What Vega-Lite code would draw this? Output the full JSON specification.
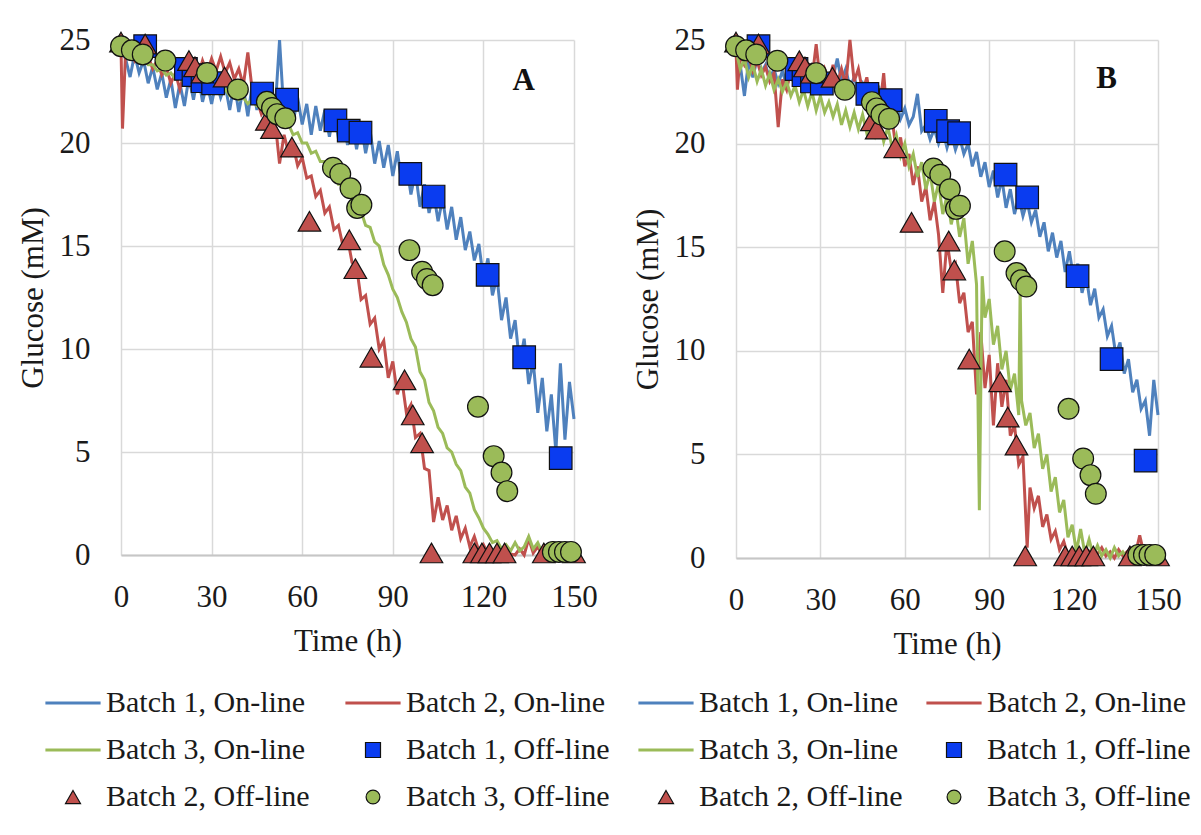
{
  "$schema": "https://vega.github.io/schema/vega-lite/v6.json",
  "background": "white",
  "padding": {"top": 24, "left": 17, "right": 5, "bottom": 5},
  "config": {
    "view": {"stroke": null},
    "font": "Liberation Serif",
    "axis": {"labelFont": "Liberation Serif", "titleFont": "Liberation Serif", "labelFontSize": 31, "titleFontSize": 31, "labelColor": "#1a1a1a", "titleColor": "#1a1a1a", "titleFontWeight": "normal", "gridColor": "#d9d9d9", "gridWidth": 1.5, "ticks": false, "tickSize": 0, "domain": false, "labelFlush": false, "labelOverlap": false}
  },
  "resolve": {"legend": {"fill": "independent", "stroke": "independent", "shape": "independent"}},
  "spacing": 162,
  "bounds": "flush",
  "datasets": {
    "a1": [{"t":0,"v":24.5},{"t":1.5,"v":24.1},{"t":3,"v":23.2},{"t":4.5,"v":24.3},{"t":6,"v":23.4},{"t":7.5,"v":24.0},{"t":9,"v":22.9},{"t":10.5,"v":23.7},{"t":12,"v":22.6},{"t":13.5,"v":23.4},{"t":15,"v":22.2},{"t":16.5,"v":23.1},{"t":18,"v":21.7},{"t":19.5,"v":22.9},{"t":21,"v":21.8},{"t":22.5,"v":23.2},{"t":24,"v":22.1},{"t":25.5,"v":23.3},{"t":27,"v":22.0},{"t":28.5,"v":22.9},{"t":30,"v":21.9},{"t":31.5,"v":23.0},{"t":33,"v":22.2},{"t":34.5,"v":22.8},{"t":36,"v":21.6},{"t":37.5,"v":22.9},{"t":39,"v":21.5},{"t":40.5,"v":22.7},{"t":42,"v":21.3},{"t":43.5,"v":22.9},{"t":45,"v":21.6},{"t":46.5,"v":22.6},{"t":48,"v":21.2},{"t":49.5,"v":22.5},{"t":51,"v":21.5},{"t":52.5,"v":25.0},{"t":54,"v":21.3},{"t":55.5,"v":22.4},{"t":57,"v":21.0},{"t":58.5,"v":22.2},{"t":60,"v":20.9},{"t":61.5,"v":21.9},{"t":63,"v":20.4},{"t":64.5,"v":21.8},{"t":66,"v":20.6},{"t":67.5,"v":21.6},{"t":69,"v":20.3},{"t":70.5,"v":21.5},{"t":72,"v":20.2},{"t":73.5,"v":21.3},{"t":75,"v":19.9},{"t":76.5,"v":21.1},{"t":78,"v":19.7},{"t":79.5,"v":20.9},{"t":81,"v":19.5},{"t":82.5,"v":20.6},{"t":84,"v":19.0},{"t":85.5,"v":20.1},{"t":87,"v":18.8},{"t":88.5,"v":19.9},{"t":90,"v":18.4},{"t":91.5,"v":19.6},{"t":93,"v":18.0},{"t":94.5,"v":19.0},{"t":96,"v":17.5},{"t":97.5,"v":18.6},{"t":99,"v":16.9},{"t":100.5,"v":18.0},{"t":102,"v":16.6},{"t":103.5,"v":17.6},{"t":105,"v":16.2},{"t":106.5,"v":17.3},{"t":108,"v":15.8},{"t":109.5,"v":16.9},{"t":111,"v":15.3},{"t":112.5,"v":16.4},{"t":114,"v":14.8},{"t":115.5,"v":15.7},{"t":117,"v":14.3},{"t":118.5,"v":15.1},{"t":120,"v":13.4},{"t":121.5,"v":14.4},{"t":123,"v":12.6},{"t":124.5,"v":13.5},{"t":126,"v":11.4},{"t":127.5,"v":12.5},{"t":129,"v":10.5},{"t":130.5,"v":11.4},{"t":132,"v":9.3},{"t":133.5,"v":10.5},{"t":135,"v":8.3},{"t":136.5,"v":9.4},{"t":138,"v":6.9},{"t":139.5,"v":8.6},{"t":141,"v":6.0},{"t":142.5,"v":7.8},{"t":144,"v":5.0},{"t":145.5,"v":9.3},{"t":147,"v":5.6},{"t":148.5,"v":8.4},{"t":150,"v":6.6}],
    "a2": [{"t":0,"v":24.7},{"t":0.5,"v":20.7},{"t":1.5,"v":24.4},{"t":3,"v":24.5},{"t":4.5,"v":24.0},{"t":6,"v":24.4},{"t":7.5,"v":23.9},{"t":9,"v":24.2},{"t":10.5,"v":23.6},{"t":12,"v":24.0},{"t":13.5,"v":23.3},{"t":15,"v":23.7},{"t":16.5,"v":22.9},{"t":18,"v":23.4},{"t":19.5,"v":22.6},{"t":21,"v":23.5},{"t":22.5,"v":22.9},{"t":24,"v":23.8},{"t":25.5,"v":23.2},{"t":27,"v":24.0},{"t":28.5,"v":23.4},{"t":30,"v":24.1},{"t":31.5,"v":23.5},{"t":33,"v":24.2},{"t":34.5,"v":23.4},{"t":36,"v":23.9},{"t":37.5,"v":23.1},{"t":39,"v":23.6},{"t":40.5,"v":22.8},{"t":42,"v":24.4},{"t":43.5,"v":22.5},{"t":45,"v":22.1},{"t":46.5,"v":21.4},{"t":48,"v":21.8},{"t":49.5,"v":20.9},{"t":51,"v":21.1},{"t":52.5,"v":19.0},{"t":54,"v":20.4},{"t":55.5,"v":19.5},{"t":57,"v":19.9},{"t":58.5,"v":18.9},{"t":60,"v":19.3},{"t":61.5,"v":18.3},{"t":63,"v":18.4},{"t":64.5,"v":17.4},{"t":66,"v":17.7},{"t":67.5,"v":16.6},{"t":69,"v":16.9},{"t":70.5,"v":15.8},{"t":72,"v":16.0},{"t":73.5,"v":15.0},{"t":75,"v":15.4},{"t":76.5,"v":14.2},{"t":78,"v":14.0},{"t":79.5,"v":12.4},{"t":81,"v":12.6},{"t":82.5,"v":11.2},{"t":84,"v":11.5},{"t":85.5,"v":10.0},{"t":87,"v":10.4},{"t":88.5,"v":8.6},{"t":90,"v":9.4},{"t":91.5,"v":7.8},{"t":93,"v":8.5},{"t":94.5,"v":6.9},{"t":96,"v":7.3},{"t":97.5,"v":5.7},{"t":99,"v":5.9},{"t":100.5,"v":4.2},{"t":102,"v":4.1},{"t":103.5,"v":1.6},{"t":105,"v":2.8},{"t":106.5,"v":1.7},{"t":108,"v":2.4},{"t":109.5,"v":1.2},{"t":111,"v":1.9},{"t":112.5,"v":0.8},{"t":114,"v":1.3},{"t":115.5,"v":0.4},{"t":117,"v":0.9},{"t":118.5,"v":0.2},{"t":120,"v":0.5},{"t":121.5,"v":0.05},{"t":123,"v":0.2},{"t":124.5,"v":0.0},{"t":126,"v":0.1},{"t":127.5,"v":0.0},{"t":129,"v":0.05},{"t":130.5,"v":0.0},{"t":132,"v":0.3},{"t":133.5,"v":0.0},{"t":135,"v":0.8},{"t":136.5,"v":0.1},{"t":138,"v":0.4},{"t":139.5,"v":0.0},{"t":141,"v":0.1},{"t":142.5,"v":0.0},{"t":144,"v":0.05},{"t":145.5,"v":0.0},{"t":147,"v":0.1},{"t":148.5,"v":0.0},{"t":150,"v":0.05}],
    "a3": [{"t":0,"v":24.6},{"t":1.5,"v":24.5},{"t":3,"v":24.3},{"t":4.5,"v":24.3},{"t":6,"v":24.0},{"t":7.5,"v":24.1},{"t":9,"v":23.8},{"t":10.5,"v":23.8},{"t":12,"v":23.5},{"t":13.5,"v":23.6},{"t":15,"v":23.3},{"t":16.5,"v":23.4},{"t":18,"v":23.1},{"t":19.5,"v":23.2},{"t":21,"v":22.9},{"t":22.5,"v":23.0},{"t":24,"v":22.8},{"t":25.5,"v":22.9},{"t":27,"v":22.6},{"t":28.5,"v":22.8},{"t":30,"v":22.6},{"t":31.5,"v":22.7},{"t":33,"v":22.4},{"t":34.5,"v":22.6},{"t":36,"v":22.3},{"t":37.5,"v":22.4},{"t":39,"v":22.1},{"t":40.5,"v":22.2},{"t":42,"v":21.9},{"t":43.5,"v":22.1},{"t":45,"v":21.8},{"t":46.5,"v":21.8},{"t":48,"v":21.5},{"t":49.5,"v":21.6},{"t":51,"v":21.2},{"t":52.5,"v":21.2},{"t":54,"v":20.8},{"t":55.5,"v":20.9},{"t":57,"v":20.4},{"t":58.5,"v":20.5},{"t":60,"v":20.0},{"t":61.5,"v":20.0},{"t":63,"v":19.5},{"t":64.5,"v":19.6},{"t":66,"v":19.1},{"t":67.5,"v":19.1},{"t":69,"v":18.6},{"t":70.5,"v":18.6},{"t":72,"v":18.0},{"t":73.5,"v":18.0},{"t":75,"v":17.5},{"t":76.5,"v":17.3},{"t":78,"v":16.8},{"t":79.5,"v":16.7},{"t":81,"v":16.0},{"t":82.5,"v":15.9},{"t":84,"v":15.2},{"t":85.5,"v":15.0},{"t":87,"v":14.1},{"t":88.5,"v":13.6},{"t":90,"v":12.9},{"t":91.5,"v":12.5},{"t":93,"v":11.8},{"t":94.5,"v":11.3},{"t":96,"v":10.5},{"t":97.5,"v":10.1},{"t":99,"v":8.9},{"t":100.5,"v":8.5},{"t":102,"v":7.4},{"t":103.5,"v":7.0},{"t":105,"v":6.2},{"t":106.5,"v":5.9},{"t":108,"v":5.2},{"t":109.5,"v":5.0},{"t":111,"v":4.4},{"t":112.5,"v":4.1},{"t":114,"v":3.3},{"t":115.5,"v":3.0},{"t":117,"v":2.2},{"t":118.5,"v":1.8},{"t":120,"v":1.3},{"t":121.5,"v":1.0},{"t":123,"v":0.6},{"t":124.5,"v":0.7},{"t":126,"v":0.3},{"t":127.5,"v":0.5},{"t":129,"v":0.2},{"t":130.5,"v":0.6},{"t":132,"v":0.2},{"t":133.5,"v":0.4},{"t":135,"v":0.9},{"t":136.5,"v":0.3},{"t":138,"v":0.6},{"t":139.5,"v":0.1},{"t":141,"v":0.3},{"t":142.5,"v":0.1},{"t":144,"v":0.2},{"t":145.5,"v":0.1},{"t":147,"v":0.3},{"t":148.5,"v":0.1},{"t":150,"v":0.6}],
    "b1": [{"t":0,"v":24.5},{"t":1.5,"v":23.8},{"t":3,"v":22.3},{"t":4.5,"v":24.0},{"t":6,"v":23.2},{"t":7.5,"v":24.1},{"t":9,"v":23.4},{"t":10.5,"v":23.8},{"t":12,"v":23.1},{"t":13.5,"v":23.6},{"t":15,"v":22.9},{"t":16.5,"v":23.5},{"t":18,"v":22.8},{"t":19.5,"v":23.4},{"t":21,"v":22.7},{"t":22.5,"v":23.3},{"t":24,"v":22.6},{"t":25.5,"v":23.2},{"t":27,"v":22.5},{"t":28.5,"v":23.1},{"t":30,"v":22.5},{"t":31.5,"v":23.0},{"t":33,"v":22.6},{"t":34.5,"v":23.2},{"t":36,"v":24.1},{"t":37.5,"v":23.0},{"t":39,"v":23.6},{"t":40.5,"v":22.7},{"t":42,"v":23.2},{"t":43.5,"v":22.5},{"t":45,"v":22.9},{"t":46.5,"v":22.3},{"t":48,"v":22.7},{"t":49.5,"v":22.0},{"t":51,"v":22.6},{"t":52.5,"v":21.8},{"t":54,"v":22.3},{"t":55.5,"v":21.6},{"t":57,"v":22.0},{"t":58.5,"v":21.2},{"t":60,"v":21.7},{"t":61.5,"v":20.9},{"t":63,"v":21.3},{"t":64.5,"v":22.4},{"t":66,"v":20.6},{"t":67.5,"v":20.9},{"t":69,"v":20.2},{"t":70.5,"v":20.7},{"t":72,"v":20.0},{"t":73.5,"v":20.6},{"t":75,"v":19.8},{"t":76.5,"v":20.5},{"t":78,"v":19.7},{"t":79.5,"v":20.3},{"t":81,"v":19.5},{"t":82.5,"v":20.0},{"t":84,"v":18.9},{"t":85.5,"v":19.6},{"t":87,"v":18.4},{"t":88.5,"v":19.1},{"t":90,"v":17.9},{"t":91.5,"v":18.7},{"t":93,"v":17.4},{"t":94.5,"v":18.3},{"t":96,"v":16.9},{"t":97.5,"v":17.8},{"t":99,"v":16.6},{"t":100.5,"v":17.4},{"t":102,"v":16.5},{"t":103.5,"v":17.2},{"t":105,"v":16.2},{"t":106.5,"v":16.8},{"t":108,"v":15.5},{"t":109.5,"v":16.2},{"t":111,"v":14.8},{"t":112.5,"v":15.7},{"t":114,"v":14.5},{"t":115.5,"v":15.3},{"t":117,"v":13.8},{"t":118.5,"v":14.8},{"t":120,"v":13.5},{"t":121.5,"v":14.2},{"t":123,"v":12.8},{"t":124.5,"v":13.6},{"t":126,"v":12.2},{"t":127.5,"v":13.0},{"t":129,"v":11.6},{"t":130.5,"v":12.0},{"t":132,"v":10.7},{"t":133.5,"v":11.2},{"t":135,"v":9.8},{"t":136.5,"v":10.4},{"t":138,"v":8.9},{"t":139.5,"v":9.6},{"t":141,"v":8.0},{"t":142.5,"v":8.6},{"t":144,"v":7.2},{"t":145.5,"v":7.6},{"t":147,"v":5.9},{"t":148.5,"v":8.6},{"t":150,"v":6.9}],
    "b2": [{"t":0,"v":24.6},{"t":0.5,"v":22.6},{"t":1.5,"v":24.3},{"t":3,"v":23.8},{"t":4.5,"v":24.2},{"t":6,"v":23.5},{"t":7.5,"v":24.0},{"t":9,"v":23.3},{"t":10.5,"v":23.7},{"t":12,"v":23.0},{"t":13.5,"v":23.4},{"t":15,"v":20.8},{"t":16.5,"v":23.1},{"t":18,"v":22.6},{"t":19.5,"v":23.6},{"t":21,"v":22.9},{"t":22.5,"v":23.5},{"t":24,"v":22.7},{"t":25.5,"v":23.9},{"t":27,"v":23.1},{"t":28.5,"v":24.8},{"t":30,"v":22.9},{"t":31.5,"v":23.6},{"t":33,"v":23.0},{"t":34.5,"v":23.8},{"t":36,"v":22.9},{"t":37.5,"v":23.6},{"t":39,"v":22.8},{"t":40.5,"v":25.0},{"t":42,"v":23.0},{"t":43.5,"v":23.6},{"t":45,"v":22.5},{"t":46.5,"v":23.2},{"t":48,"v":22.0},{"t":49.5,"v":22.6},{"t":51,"v":21.6},{"t":52.5,"v":23.4},{"t":54,"v":20.8},{"t":55.5,"v":21.2},{"t":57,"v":19.6},{"t":58.5,"v":20.3},{"t":60,"v":18.9},{"t":61.5,"v":19.5},{"t":63,"v":18.0},{"t":64.5,"v":18.9},{"t":66,"v":17.2},{"t":67.5,"v":17.9},{"t":69,"v":16.3},{"t":70.5,"v":17.2},{"t":72,"v":15.6},{"t":73.5,"v":12.8},{"t":75,"v":15.3},{"t":76.5,"v":13.9},{"t":78,"v":14.2},{"t":79.5,"v":12.3},{"t":81,"v":12.8},{"t":82.5,"v":10.9},{"t":84,"v":11.4},{"t":85.5,"v":7.9},{"t":87,"v":10.9},{"t":88.5,"v":8.2},{"t":90,"v":9.8},{"t":91.5,"v":6.4},{"t":93,"v":9.4},{"t":94.5,"v":7.3},{"t":96,"v":8.6},{"t":97.5,"v":5.9},{"t":99,"v":6.4},{"t":100.5,"v":4.5},{"t":102,"v":4.9},{"t":103.5,"v":0.5},{"t":104.5,"v":3.4},{"t":106,"v":2.4},{"t":107.5,"v":3.0},{"t":109,"v":1.5},{"t":110.5,"v":2.1},{"t":112,"v":0.9},{"t":113.5,"v":1.3},{"t":115,"v":0.4},{"t":116.5,"v":0.8},{"t":118,"v":0.1},{"t":119.5,"v":0.4},{"t":121,"v":0.0},{"t":122.5,"v":0.2},{"t":124,"v":0.0},{"t":125.5,"v":0.3},{"t":127,"v":0.0},{"t":128.5,"v":0.2},{"t":130,"v":0.5},{"t":131.5,"v":0.1},{"t":133,"v":0.3},{"t":134.5,"v":0.0},{"t":136,"v":0.4},{"t":137.5,"v":0.1},{"t":139,"v":0.3},{"t":140.5,"v":0.0},{"t":142,"v":0.2},{"t":143.5,"v":1.1},{"t":145,"v":0.2},{"t":146.5,"v":0.4},{"t":148,"v":0.0},{"t":149.5,"v":0.2}],
    "b3": [{"t":0,"v":24.5},{"t":1.5,"v":23.6},{"t":3,"v":24.1},{"t":4.5,"v":23.2},{"t":6,"v":23.8},{"t":7.5,"v":23.0},{"t":9,"v":23.6},{"t":10.5,"v":22.8},{"t":12,"v":23.4},{"t":13.5,"v":22.6},{"t":15,"v":23.1},{"t":16.5,"v":22.5},{"t":18,"v":23.0},{"t":19.5,"v":22.3},{"t":21,"v":22.8},{"t":22.5,"v":22.0},{"t":24,"v":22.6},{"t":25.5,"v":21.8},{"t":27,"v":22.5},{"t":28.5,"v":21.6},{"t":30,"v":22.3},{"t":31.5,"v":21.5},{"t":33,"v":22.0},{"t":34.5,"v":21.3},{"t":36,"v":21.9},{"t":37.5,"v":20.9},{"t":39,"v":21.6},{"t":40.5,"v":20.8},{"t":42,"v":21.5},{"t":43.5,"v":20.7},{"t":45,"v":21.4},{"t":46.5,"v":20.5},{"t":48,"v":21.2},{"t":49.5,"v":20.4},{"t":51,"v":21.0},{"t":52.5,"v":20.1},{"t":54,"v":20.8},{"t":55.5,"v":19.8},{"t":57,"v":20.4},{"t":58.5,"v":19.4},{"t":60,"v":20.0},{"t":61.5,"v":18.9},{"t":63,"v":19.5},{"t":64.5,"v":18.4},{"t":66,"v":19.1},{"t":67.5,"v":17.8},{"t":69,"v":18.6},{"t":70.5,"v":17.2},{"t":72,"v":18.1},{"t":73.5,"v":16.6},{"t":75,"v":17.5},{"t":76.5,"v":16.1},{"t":78,"v":17.0},{"t":79.5,"v":15.5},{"t":81,"v":16.4},{"t":82.5,"v":14.2},{"t":84,"v":15.3},{"t":85.5,"v":13.2},{"t":86.5,"v":2.3},{"t":87.5,"v":13.6},{"t":88.5,"v":11.6},{"t":90,"v":12.5},{"t":91.5,"v":10.3},{"t":93,"v":11.2},{"t":94.5,"v":9.1},{"t":96,"v":10.0},{"t":97.5,"v":8.1},{"t":99,"v":8.9},{"t":100.5,"v":6.9},{"t":101,"v":13.0},{"t":101.5,"v":7.6},{"t":103,"v":6.4},{"t":104.5,"v":7.0},{"t":106,"v":5.3},{"t":107.5,"v":6.0},{"t":109,"v":4.3},{"t":110.5,"v":5.0},{"t":112,"v":3.2},{"t":113.5,"v":3.9},{"t":115,"v":2.2},{"t":116.5,"v":2.8},{"t":118,"v":1.0},{"t":119.5,"v":1.6},{"t":121,"v":0.3},{"t":122.5,"v":1.4},{"t":124,"v":0.2},{"t":125.5,"v":0.9},{"t":127,"v":0.1},{"t":128.5,"v":0.6},{"t":130,"v":0.1},{"t":131.5,"v":0.4},{"t":133,"v":0.0},{"t":134.5,"v":0.5},{"t":136,"v":0.1},{"t":137.5,"v":0.3},{"t":139,"v":0.0},{"t":140.5,"v":0.2},{"t":142,"v":0.0},{"t":143.5,"v":0.2},{"t":145,"v":0.1},{"t":146.5,"v":0.3},{"t":148,"v":0.0},{"t":149.5,"v":0.2}],
    "off": [
      {"s":"Batch 1, Off-line","t":8,"v":24.7},{"s":"Batch 1, Off-line","t":21.5,"v":23.6},{"s":"Batch 1, Off-line","t":24,"v":23.3},{"s":"Batch 1, Off-line","t":27,"v":23.0},{"s":"Batch 1, Off-line","t":30.5,"v":22.9},{"s":"Batch 1, Off-line","t":46.7,"v":22.4},{"s":"Batch 1, Off-line","t":55,"v":22.1},{"s":"Batch 1, Off-line","t":71,"v":21.1},{"s":"Batch 1, Off-line","t":75.4,"v":20.6},{"s":"Batch 1, Off-line","t":79.3,"v":20.5},{"s":"Batch 1, Off-line","t":95.8,"v":18.5},{"s":"Batch 1, Off-line","t":103.5,"v":17.4},{"s":"Batch 1, Off-line","t":121.4,"v":13.6},{"s":"Batch 1, Off-line","t":133.5,"v":9.6},{"s":"Batch 1, Off-line","t":145.6,"v":4.7},
      {"s":"Batch 2, Off-line","t":0,"v":24.9},{"s":"Batch 2, Off-line","t":8,"v":24.8},{"s":"Batch 2, Off-line","t":22.5,"v":24.0},{"s":"Batch 2, Off-line","t":24.5,"v":23.7},{"s":"Batch 2, Off-line","t":27,"v":23.4},{"s":"Batch 2, Off-line","t":34.3,"v":23.2},{"s":"Batch 2, Off-line","t":48.3,"v":21.1},{"s":"Batch 2, Off-line","t":50,"v":20.7},{"s":"Batch 2, Off-line","t":56.6,"v":19.8},{"s":"Batch 2, Off-line","t":62.4,"v":16.2},{"s":"Batch 2, Off-line","t":75.6,"v":15.3},{"s":"Batch 2, Off-line","t":77.6,"v":13.9},{"s":"Batch 2, Off-line","t":82.9,"v":9.6},{"s":"Batch 2, Off-line","t":93.9,"v":8.5},{"s":"Batch 2, Off-line","t":96.6,"v":6.8},{"s":"Batch 2, Off-line","t":99.7,"v":5.45},{"s":"Batch 2, Off-line","t":102.8,"v":0.1},{"s":"Batch 2, Off-line","t":117,"v":0.1},{"s":"Batch 2, Off-line","t":119.5,"v":0.1},{"s":"Batch 2, Off-line","t":122,"v":0.1},{"s":"Batch 2, Off-line","t":124.5,"v":0.1},{"s":"Batch 2, Off-line","t":127,"v":0.1},{"s":"Batch 2, Off-line","t":140,"v":0.1},{"s":"Batch 2, Off-line","t":150,"v":0.1},
      {"s":"Batch 3, Off-line","t":0,"v":24.7},{"s":"Batch 3, Off-line","t":3.6,"v":24.5},{"s":"Batch 3, Off-line","t":7.2,"v":24.3},{"s":"Batch 3, Off-line","t":14.7,"v":24.0},{"s":"Batch 3, Off-line","t":28.5,"v":23.4},{"s":"Batch 3, Off-line","t":38.7,"v":22.6},{"s":"Batch 3, Off-line","t":48.3,"v":22.0},{"s":"Batch 3, Off-line","t":50,"v":21.7},{"s":"Batch 3, Off-line","t":51.7,"v":21.4},{"s":"Batch 3, Off-line","t":54.4,"v":21.2},{"s":"Batch 3, Off-line","t":70.2,"v":18.8},{"s":"Batch 3, Off-line","t":72.6,"v":18.5},{"s":"Batch 3, Off-line","t":76,"v":17.8},{"s":"Batch 3, Off-line","t":78.2,"v":16.85},{"s":"Batch 3, Off-line","t":79.6,"v":17.0},{"s":"Batch 3, Off-line","t":95.5,"v":14.8},{"s":"Batch 3, Off-line","t":99.7,"v":13.75},{"s":"Batch 3, Off-line","t":101.3,"v":13.4},{"s":"Batch 3, Off-line","t":103.2,"v":13.1},{"s":"Batch 3, Off-line","t":118.2,"v":7.2},{"s":"Batch 3, Off-line","t":123.4,"v":4.8},{"s":"Batch 3, Off-line","t":126,"v":4.0},{"s":"Batch 3, Off-line","t":127.9,"v":3.1},{"s":"Batch 3, Off-line","t":143,"v":0.15},{"s":"Batch 3, Off-line","t":145,"v":0.15},{"s":"Batch 3, Off-line","t":147,"v":0.15},{"s":"Batch 3, Off-line","t":149,"v":0.15}
    ]
  },
  "hconcat": [
    {
      "width": 453,
      "height": 515,
      "layer": [
        {"data": {"name": "a1"}, "mark": {"type": "line", "strokeWidth": 3},
         "encoding": {
           "x": {"field": "t", "type": "quantitative", "scale": {"domain": [0, 150], "nice": false}, "axis": {"values": [0, 30, 60, 90, 120, 150], "labelPadding": 27, "titlePadding": 14, "domain": true, "domainColor": "#c6c6c6", "domainWidth": 2}, "title": "Time (h)"},
           "y": {"field": "v", "type": "quantitative", "scale": {"domain": [0, 25], "nice": false}, "axis": {"values": [0, 5, 10, 15, 20, 25], "labelPadding": 31, "titlePadding": 10}, "title": "Glucose (mM)"},
           "color": {"datum": "Batch 1, On-line", "type": "nominal", "scale": {"domain": ["Batch 1, On-line", "Batch 2, On-line", "Batch 3, On-line"], "range": ["#4f81bd", "#c0504d", "#9bbb59"]}, "legend": null}
         }},
        {"data": {"name": "a2"}, "mark": {"type": "line", "strokeWidth": 3},
         "encoding": {"x": {"field": "t", "type": "quantitative"}, "y": {"field": "v", "type": "quantitative"}, "color": {"datum": "Batch 2, On-line", "type": "nominal", "legend": null}}},
        {"data": {"name": "a3"}, "mark": {"type": "line", "strokeWidth": 3},
         "encoding": {"x": {"field": "t", "type": "quantitative"}, "y": {"field": "v", "type": "quantitative"}, "color": {"datum": "Batch 3, On-line", "type": "nominal", "legend": null}}},
        {"data": {"name": "off"}, "mark": {"type": "point", "filled": true, "opacity": 1, "size": 510, "strokeWidth": 1.2},
         "encoding": {
           "x": {"field": "t", "type": "quantitative"}, "y": {"field": "v", "type": "quantitative"},
           "fill": {"field": "s", "type": "nominal",
             "scale": {"domain": ["Batch 1, On-line", "Batch 2, On-line", "Batch 3, On-line", "Batch 1, Off-line", "Batch 2, Off-line", "Batch 3, Off-line"], "range": ["#4f81bd", "#c0504d", "#9bbb59", "#0a3cf0", "#c0504d", "#9bbb59"]},
             "legend": {"title": null, "orient": "none", "direction": "horizontal", "legendX": -63, "legendY": 648, "columns": 2, "columnPadding": 33, "rowPadding": 17, "labelFont": "Liberation Serif", "labelFontSize": 30, "labelColor": "#1a1a1a", "labelLimit": 400, "labelOffset": 18, "symbolSize": 225, "symbolStrokeWidth": 1.2, "padding": 0}},
           "stroke": {"field": "s", "type": "nominal",
             "scale": {"domain": ["Batch 1, On-line", "Batch 2, On-line", "Batch 3, On-line", "Batch 1, Off-line", "Batch 2, Off-line", "Batch 3, Off-line"], "range": ["#4f81bd", "#c0504d", "#9bbb59", "#111111", "#111111", "#111111"]},
             "legend": {"title": null, "orient": "none", "direction": "horizontal", "legendX": -63, "legendY": 648, "columns": 2}},
           "shape": {"field": "s", "type": "nominal",
             "scale": {"domain": ["Batch 1, On-line", "Batch 2, On-line", "Batch 3, On-line", "Batch 1, Off-line", "Batch 2, Off-line", "Batch 3, Off-line"], "range": ["M-3.6,-0.13H3.6V0.13H-3.6Z", "M-3.6,-0.13H3.6V0.13H-3.6Z", "M-3.6,-0.13H3.6V0.13H-3.6Z", "M-1,-1H1V1H-1Z", "M0,-0.87L1,0.87L-1,0.87Z", "M0.92,0A0.92,0.92,0,1,1,-0.92,0A0.92,0.92,0,1,1,0.92,0Z"]},
             "legend": {"title": null, "orient": "none", "direction": "horizontal", "legendX": -63, "legendY": 648, "columns": 2}}
         }},
        {"data": {"values": [{"lab": "A", "t": 133.3, "v": 23.0}]}, "mark": {"type": "text", "font": "Liberation Serif", "fontWeight": "bold", "fontSize": 31, "color": "#111111", "baseline": "middle", "align": "center"},
         "encoding": {"x": {"field": "t", "type": "quantitative"}, "y": {"field": "v", "type": "quantitative"}, "text": {"field": "lab"}}}
      ]
    },
    {
      "width": 422,
      "height": 518,
      "layer": [
        {"data": {"name": "b1"}, "mark": {"type": "line", "strokeWidth": 3},
         "encoding": {
           "x": {"field": "t", "type": "quantitative", "scale": {"domain": [0, 150], "nice": false}, "axis": {"values": [0, 30, 60, 90, 120, 150], "labelPadding": 27, "titlePadding": 14, "domain": true, "domainColor": "#c6c6c6", "domainWidth": 2}, "title": "Time (h)"},
           "y": {"field": "v", "type": "quantitative", "scale": {"domain": [0, 25], "nice": false}, "axis": {"values": [0, 5, 10, 15, 20, 25], "labelPadding": 31, "titlePadding": 10}, "title": "Glucose (mM)"},
           "color": {"datum": "Batch 1, On-line", "type": "nominal", "legend": null}
         }},
        {"data": {"name": "b2"}, "mark": {"type": "line", "strokeWidth": 3},
         "encoding": {"x": {"field": "t", "type": "quantitative"}, "y": {"field": "v", "type": "quantitative"}, "color": {"datum": "Batch 2, On-line", "type": "nominal", "legend": null}}},
        {"data": {"name": "b3"}, "mark": {"type": "line", "strokeWidth": 3},
         "encoding": {"x": {"field": "t", "type": "quantitative"}, "y": {"field": "v", "type": "quantitative"}, "color": {"datum": "Batch 3, On-line", "type": "nominal", "legend": null}}},
        {"data": {"name": "off"}, "mark": {"type": "point", "filled": true, "opacity": 1, "size": 510, "strokeWidth": 1.2},
         "encoding": {
           "x": {"field": "t", "type": "quantitative"}, "y": {"field": "v", "type": "quantitative"},
           "fill": {"field": "s", "type": "nominal",
             "legend": {"title": null, "orient": "none", "direction": "horizontal", "legendX": -85, "legendY": 648, "columns": 2, "columnPadding": 21, "rowPadding": 17, "labelFont": "Liberation Serif", "labelFontSize": 30, "labelColor": "#1a1a1a", "labelLimit": 400, "labelOffset": 18, "symbolSize": 225, "symbolStrokeWidth": 1.2, "padding": 0}},
           "stroke": {"field": "s", "type": "nominal", "legend": {"title": null, "orient": "none", "direction": "horizontal", "legendX": -85, "legendY": 648, "columns": 2}},
           "shape": {"field": "s", "type": "nominal", "legend": {"title": null, "orient": "none", "direction": "horizontal", "legendX": -85, "legendY": 648, "columns": 2}}
         }},
        {"data": {"values": [{"lab": "B", "t": 131.7, "v": 23.1}]}, "mark": {"type": "text", "font": "Liberation Serif", "fontWeight": "bold", "fontSize": 31, "color": "#111111", "baseline": "middle", "align": "center"},
         "encoding": {"x": {"field": "t", "type": "quantitative"}, "y": {"field": "v", "type": "quantitative"}, "text": {"field": "lab"}}}
      ]
    }
  ]
}
